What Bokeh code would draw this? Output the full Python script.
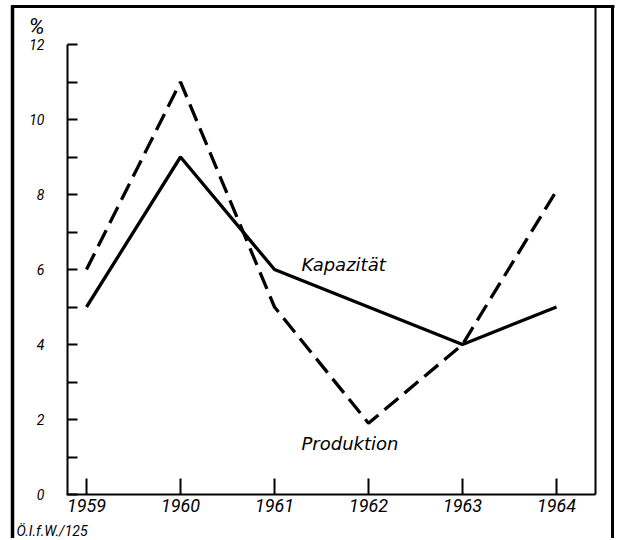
from bokeh.plotting import figure
from bokeh.models import Range1d, FixedTicker, LinearAxis, Label, BoxAnnotation
from bokeh.embed import file_html
from bokeh.resources import INLINE

years = [1959, 1960, 1961, 1962, 1963, 1964]
kapazitaet = [5, 9, 6, 5, 4, 5]
produktion = [6, 11, 5, 1.9, 4, 8.1]
y_ticks = [0, 2, 4, 6, 8, 10, 12]
y_minor = [1, 3, 5, 7, 9, 11]
x_labels = {y: str(y) for y in years}

FONT = "Roboto"
LFONT = "DejaVu Sans"

# ---- geometry (pixels) ----
W, H = 618, 538
O = 1                     # picture offset of the canvas
PX_X = 94.0               # pixels per year
PX_Y = 37.5               # pixels per percentage point
X0_PIX = 87               # where the first year sits
Y0_PIX = 495              # where 0 % sits

def xv(px):
    return years[0] + (px - X0_PIX) / PX_X

def yv(py):
    return (Y0_PIX - py) / PX_Y

x_start = xv(O)
x_end = x_start + W / PX_X
y_end = yv(O)
y_start = y_end - H / PX_Y

p = figure(width=W, height=H,
           x_range=Range1d(x_start, x_end), y_range=Range1d(y_start, y_end),
           output_backend="svg", toolbar_location=None,
           min_border_left=0, min_border_right=0, min_border_top=0, min_border_bottom=0)
p.outline_line_color = None
p.xgrid.grid_line_color = None
p.ygrid.grid_line_color = None
p.background_fill_color = "white"
p.border_fill_color = "white"

# x axis
xa = p.xaxis[0]
xa.fixed_location = 0
xa.bounds = (xv(67), xv(596))
xa.ticker = FixedTicker(ticks=years)
xa.major_label_overrides = x_labels
xa.axis_line_width = 2
xa.axis_line_color = "black"
xa.major_tick_in = 16
xa.major_tick_out = 0
xa.major_tick_line_width = 2
xa.minor_tick_in = 0
xa.minor_tick_out = 0
xa.major_label_standoff = 4
xa.major_label_text_font = FONT
xa.major_label_text_font_style = "italic"
xa.major_label_text_font_size = "18px"
xa.major_label_text_color = "black"

# y axis
ya = p.yaxis[0]
ya.fixed_location = xv(68)
ya.ticker = FixedTicker(ticks=y_ticks, minor_ticks=y_minor)
ya.bounds = (0, 12)
ya.axis_line_width = 2
ya.axis_line_color = "black"
ya.major_tick_in = 10
ya.major_tick_out = 0
ya.major_tick_line_width = 2
ya.minor_tick_in = 10
ya.minor_tick_out = 0
ya.minor_tick_line_width = 2
ya.minor_tick_line_color = "black"
ya.major_label_standoff = 23
ya.major_label_text_font = FONT
ya.major_label_text_font_style = "italic"
ya.major_label_text_font_size = "14px"
ya.major_label_text_color = "black"


def bare_axis(loc, bounds, width):
    return LinearAxis(ticker=FixedTicker(ticks=[]), axis_line_width=width, axis_line_color="black",
                      major_tick_in=0, major_tick_out=0, minor_tick_in=0, minor_tick_out=0,
                      major_label_text_font_size="0px", fixed_location=loc, bounds=bounds)

# inner right line
p.add_layout(bare_axis(xv(596), (0, yv(7)), 2), "right")
# outer frame: left (drawn from the right-hand panel, which renders reliably), right, top
p.add_layout(bare_axis(xv(13), (y_start - 1, yv(6)), 3.5), "right")
p.add_layout(bare_axis(xv(613), (y_start - 1, yv(6)), 3), "right")
p.add_layout(bare_axis(yv(7), (xv(11.5), xv(614.5)), 3), "above")
p.add_layout(BoxAnnotation(left=xv(11.5), right=xv(14.5), top=yv(6), bottom=y_start - 1,
                           fill_color="black", fill_alpha=1, line_color=None))

# data lines
p.line(years, kapazitaet, line_color="black", line_width=3.3)
p.line(years, produktion, line_color="black", line_width=3.3, line_dash="18 8")

# labels
p.add_layout(Label(x=xv(302), y=yv(265), text="Kapazität", text_font=LFONT, text_font_style="italic",
                   text_font_size="18px", text_baseline="middle", text_align="left", text_color="black"))
p.add_layout(Label(x=xv(302), y=yv(444), text="Produktion", text_font=LFONT, text_font_style="italic",
                   text_font_size="18px", text_baseline="middle", text_align="left", text_color="black"))
p.add_layout(Label(x=xv(37), y=yv(27), text="%", text_font=FONT, text_font_style="italic",
                   text_font_size="22px", text_baseline="middle", text_align="center", text_color="black"))
p.add_layout(Label(x=xv(17), y=yv(531), text="Ö.I.f.W./125", text_font=FONT, text_font_style="italic",
                   text_font_size="14px", text_baseline="middle", text_align="left", text_color="black"))

open("out.html", "w").write(file_html(p, INLINE))
